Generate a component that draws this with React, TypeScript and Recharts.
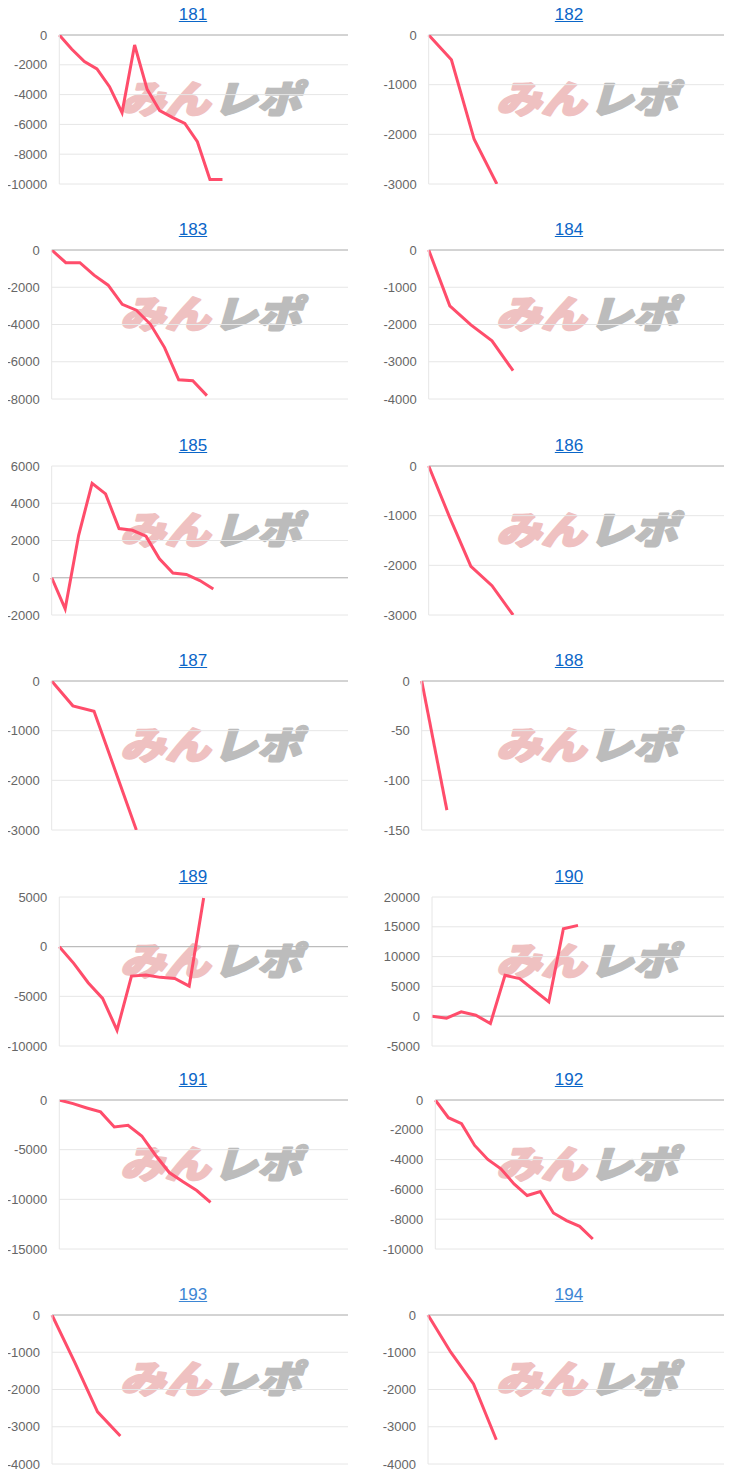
import { LineChart, Line, XAxis, YAxis, CartesianGrid, ReferenceLine } from 'recharts'

// machine numbers shown as chart titles
const machineIds = [181, 182, 183, 184, 185, 186, 187, 188, 189, 190, 191, 192, 193, 194]

// coin difference per game block
const diff181 = [0, -960, -1790, -2280, -3470, -5210, -670, -3650, -5080, -5530, -5930, -7160, -9690, -9690]
const diff182 = [0, -500, -2100, -3000]
const diff183 = [0, -680, -680, -1350, -1890, -2920, -3230, -3990, -5240, -6970, -7020, -7820]
const diff184 = [0, -1500, -2010, -2440, -3240]
const diff185 = [0, -1670, 2280, 5070, 4500, 2640, 2550, 2230, 1020, 250, 180, -150, -600]
const diff186 = [0, -1040, -2020, -2410, -3000]
const diff187 = [0, -500, -610, -1800, -3000]
const diff188 = [0, -130]
const diff189 = [0, -1680, -3630, -5210, -8410, -2960, -2860, -3090, -3200, -3970, 4900]
const diff190 = [0, -330, 730, 170, -1230, 6870, 6310, 4350, 2400, 14680, 15240]
const diff191 = [0, -370, -800, -1200, -2710, -2540, -3620, -5560, -7300, -8240, -9110, -10310]
const diff192 = [0, -1190, -1590, -3050, -3990, -4620, -5630, -6410, -6140, -7580, -8090, -8480, -9330]
const diff193 = [0, -1270, -2600, -3250]
const diff194 = [0, -1000, -1850, -3350]

const allDiffs = [diff181, diff182, diff183, diff184, diff185, diff186, diff187,
  diff188, diff189, diff190, diff191, diff192, diff193, diff194]

// hidden x axis upper bound per chart
const xMax = [23, 13, 21, 14, 22, 14, 14, 12, 20, 20, 21, 22, 13, 13]

// y ticks
const ticksTo10k = [-10000, -8000, -6000, -4000, -2000, 0]
const ticksTo3k = [-3000, -2000, -1000, 0]
const ticksTo8k = [-8000, -6000, -4000, -2000, 0]
const ticksTo4k = [-4000, -3000, -2000, -1000, 0]
const ticks185 = [-2000, 0, 2000, 4000, 6000]
const ticks188 = [-150, -100, -50, 0]
const ticks189 = [-10000, -5000, 0, 5000]
const ticks190 = [-5000, 0, 5000, 10000, 15000, 20000]
const ticks191 = [-15000, -10000, -5000, 0]

const allTicks = [ticksTo10k, ticksTo3k, ticksTo8k, ticksTo4k, ticks185, ticksTo3k, ticksTo3k,
  ticks188, ticks189, ticks190, ticks191, ticksTo10k, ticksTo4k, ticksTo4k]

// layout
const plotTops = [34.7, 249.7, 466, 681, 897, 1099.7, 1315]
const axisWidths = [59.3, 52.7, 51.7, 52.7, 51.7, 52.7, 51.7, 45.7, 59.3, 56, 59.3, 59.3, 52, 52]
const COL_OFFSET = 376
const CELL_W = 370
const PLOT_H = 149
const M_TOP = 10
const M_BOTTOM = 10
const FONT = "'Liberation Sans', Arial, sans-serif"

function Watermark({ left, top }: { left: number; top: number }) {
  const common = {
    fontSize: 38,
    fontWeight: 900,
    fontStyle: 'italic' as const,
    fontFamily: "'Noto Sans CJK JP', sans-serif",
    strokeWidth: 2.2,
    strokeLinejoin: 'round' as const,
    lengthAdjust: 'spacingAndGlyphs' as const,
  }
  return (
    <svg width={210} height={60} style={{ position: 'absolute', left, top, overflow: 'visible' }}>
      <text x={4} y={40} fill="#efc1c1" stroke="#efc1c1" textLength={90} {...common}>
        みん
      </text>
      <text x={97} y={40} fill="#bcbcbc" stroke="#bcbcbc" textLength={88} {...common}>
        レポ
      </text>
    </svg>
  )
}

function MiniChart({ index }: { index: number }) {
  const col = index % 2
  const row = Math.floor(index / 2)
  const cellLeft = col * COL_OFFSET
  const plotTop = plotTops[row]
  const ticks = allTicks[index]
  const data = allDiffs[index].map((v, i) => ({ x: i, diff: v }))
  const light = index >= 12

  return (
    <>
      <a
        href="#"
        style={{
          position: 'absolute',
          left: cellLeft + 193 - 40,
          width: 80,
          top: plotTop - 31,
          textAlign: 'center',
          fontFamily: FONT,
          fontSize: 17,
          lineHeight: '22px',
          color: light ? '#3d86d4' : '#0b66c8',
          textDecoration: 'underline',
        }}
      >
        {machineIds[index]}
      </a>
      <Watermark left={cellLeft + 116} top={plotTop + 38} />
      <div style={{ position: 'absolute', left: cellLeft, top: plotTop - M_TOP }}>
        <LineChart
          width={CELL_W}
          height={PLOT_H + M_TOP + M_BOTTOM}
          data={data}
          margin={{ top: M_TOP, right: 22, bottom: M_BOTTOM, left: 0 }}
        >
          <CartesianGrid vertical={false} stroke="#e6e6e6" />
          <XAxis dataKey="x" type="number" domain={[0, xMax[index]]} hide />
          <YAxis
            width={axisWidths[index]}
            domain={[ticks[0], ticks[ticks.length - 1]]}
            ticks={ticks}
            interval={0}
            allowDataOverflow
            tickLine={false}
            tickSize={0}
            tickMargin={12}
            axisLine={{ stroke: '#e6e6e6' }}
            tick={{ fill: '#666', fontSize: 13, fontFamily: FONT }}
          />
          <ReferenceLine y={0} stroke="#b4b4b4" />
          <Line
            type="linear"
            dataKey="diff"
            stroke="#ff4d6b"
            strokeWidth={3}
            dot={false}
            isAnimationActive={false}
          />
        </LineChart>
      </div>
    </>
  )
}

export default function App() {
  return (
    <div style={{ position: 'relative', width: 738, height: 1480, margin: -8, background: '#fff' }}>
      {machineIds.map((id, i) => (
        <MiniChart key={id} index={i} />
      ))}
    </div>
  )
}
